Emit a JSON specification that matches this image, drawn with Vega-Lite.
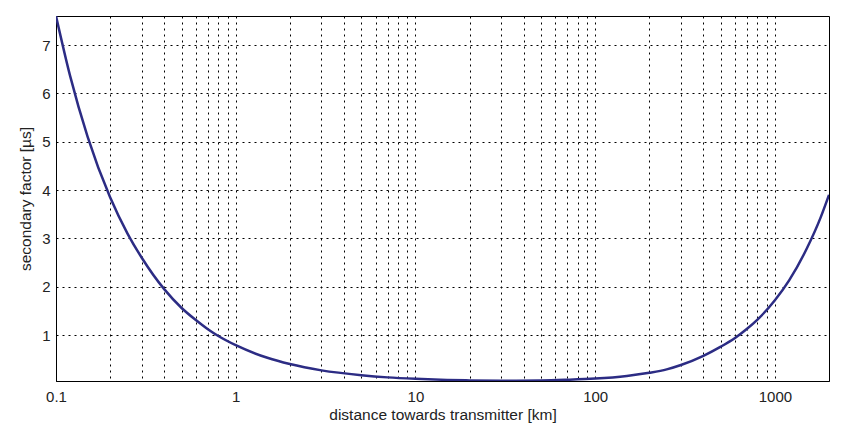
{
  "$schema": "https://vega.github.io/schema/vega-lite/v6.json",
  "width": 773,
  "height": 365,
  "autosize": {"type": "none"},
  "padding": {"left": 56, "top": 16, "right": 16, "bottom": 46},
  "background": "white",
  "config": {
    "view": {"stroke": "black", "strokeWidth": 1},
    "font": "Liberation Sans",
    "axis": {
      "domainColor": "black",
      "grid": true,
      "gridColor": "black",
      "gridOpacity": 1,
      "gridDash": [2, 4],
      "gridWidth": 1,
      "ticks": false,
      "labelColor": "#222",
      "titleColor": "#222",
      "labelFontSize": 15,
      "titleFontSize": 15.5,
      "titleFontWeight": "normal",
      "labelFont": "Liberation Sans",
      "titleFont": "Liberation Sans"
    }
  },
  "data": {
    "values": [
      {"d": 0.1, "v": 7.6},
      {"d": 0.12, "v": 6.35},
      {"d": 0.15, "v": 5.1},
      {"d": 0.2, "v": 3.85},
      {"d": 0.25, "v": 3.1},
      {"d": 0.3, "v": 2.6},
      {"d": 0.4, "v": 1.95},
      {"d": 0.5, "v": 1.56},
      {"d": 0.6, "v": 1.31},
      {"d": 0.7, "v": 1.12},
      {"d": 0.8, "v": 0.98},
      {"d": 1, "v": 0.79},
      {"d": 1.5, "v": 0.53},
      {"d": 2, "v": 0.4},
      {"d": 3, "v": 0.27},
      {"d": 5, "v": 0.17},
      {"d": 7, "v": 0.125},
      {"d": 10, "v": 0.095},
      {"d": 15, "v": 0.072},
      {"d": 20, "v": 0.062},
      {"d": 30, "v": 0.056},
      {"d": 50, "v": 0.06},
      {"d": 70, "v": 0.075},
      {"d": 100, "v": 0.1},
      {"d": 150, "v": 0.155},
      {"d": 200, "v": 0.22},
      {"d": 250, "v": 0.29},
      {"d": 300, "v": 0.38},
      {"d": 400, "v": 0.57},
      {"d": 500, "v": 0.76},
      {"d": 600, "v": 0.94},
      {"d": 700, "v": 1.13},
      {"d": 800, "v": 1.32},
      {"d": 1000, "v": 1.72},
      {"d": 1200, "v": 2.13},
      {"d": 1500, "v": 2.78},
      {"d": 1800, "v": 3.44},
      {"d": 2000, "v": 3.9}
    ]
  },
  "mark": {"type": "line", "color": "#2c2c84", "strokeWidth": 2.5, "interpolate": "monotone", "clip": true},
  "encoding": {
    "x": {
      "field": "d",
      "type": "quantitative",
      "scale": {"type": "log", "domain": [0.1, 2000], "nice": false},
      "axis": {
        "title": "distance towards transmitter [km]",
        "values": [0.1, 0.2, 0.3, 0.4, 0.5, 0.6, 0.7, 0.8, 0.9, 1, 2, 3, 4, 5, 6, 7, 8, 9, 10, 20, 30, 40, 50, 60, 70, 80, 90, 100, 200, 300, 400, 500, 600, 700, 800, 900, 1000],
        "labelExpr": "datum.value == 0.1 ? '0.1' : datum.value == 1 ? '1' : datum.value == 10 ? '10' : datum.value == 100 ? '100' : datum.value == 1000 ? '1000' : ''",
        "labelPadding": 8,
        "titlePadding": 3,
        "labelFlush": false,
        "labelOverlap": false
      }
    },
    "y": {
      "field": "v",
      "type": "quantitative",
      "scale": {"domain": [0.05, 7.6], "nice": false, "zero": false},
      "axis": {
        "title": "secondary factor [µs]",
        "values": [1, 2, 3, 4, 5, 6, 7],
        "labelPadding": 6,
        "titlePadding": 8
      }
    }
  }
}
